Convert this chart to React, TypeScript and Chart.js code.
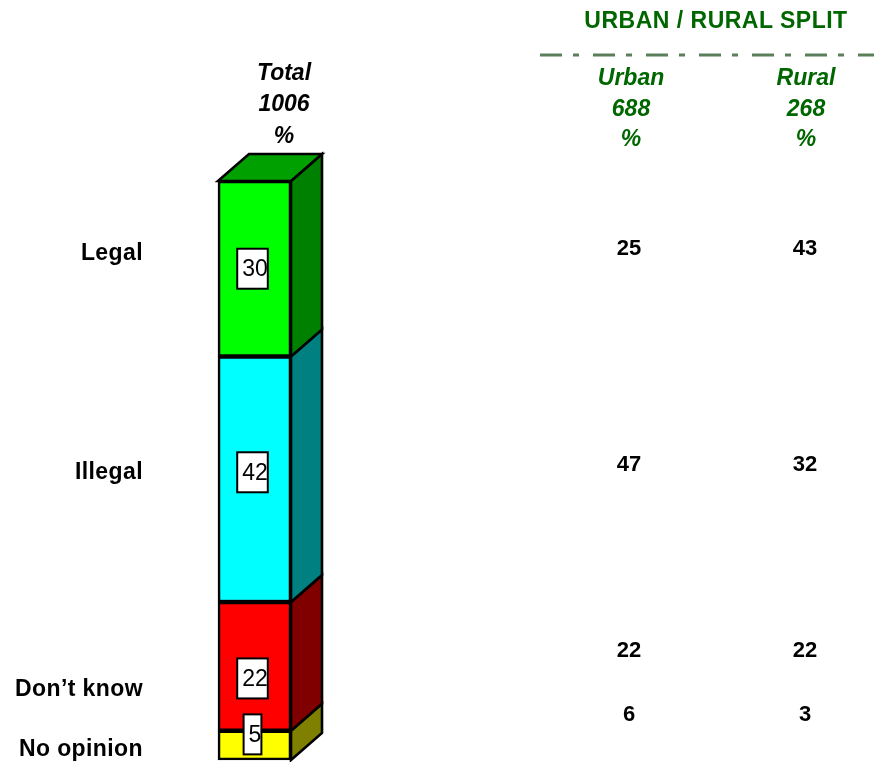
import React, { useEffect, useRef } from "react";
import { Chart, registerables } from "chart.js";

Chart.register(...registerables);

// ---- data ----
const categories = ["No opinion", "Don’t know", "Illegal", "Legal"];
const totalValues = [5, 22, 42, 30];
const urbanValues = [6, 22, 47, 25];
const ruralValues = [3, 22, 32, 43];
const totalHeader = ["Total", "1006", "%"];
const urbanHeader = ["Urban", "688", "%"];
const ruralHeader = ["Rural", "268", "%"];
const splitTitle = "URBAN / RURAL SPLIT";

// ---- styles ----
const frontColors = ["#FFFF00", "#FF0000", "#00FFFF", "#00FF00"];
const sideColors = ["#808000", "#800000", "#008080", "#008000"];
const topColor = "#00A000";
const green = "#006600";
const FONT = "'Liberation Sans', Arial, Helvetica, sans-serif";
const labelNudge = [-11, 12, -7, 0];
const catLabelY = [748, 688, 471, 252];
const valueRowY = [714, 650, 464, 248];

const depthPlugin = {
  id: "depth3d",
  afterDatasetsDraw(chart: any) {
    const ctx = chart.ctx;
    const dx = 31;
    const dy = -27;
    ctx.save();
    ctx.lineWidth = 2.6;
    ctx.strokeStyle = "#000";
    ctx.lineJoin = "miter";
    const n = chart.data.datasets.length;
    for (let i = 0; i < n; i++) {
      const meta = chart.getDatasetMeta(i);
      meta.data.forEach((bar: any) => {
        const { x, y, base, width } = bar.getProps(["x", "y", "base", "width"], true);
        const right = x + width / 2;
        ctx.beginPath();
        ctx.moveTo(right, y);
        ctx.lineTo(right + dx, y + dy);
        ctx.lineTo(right + dx, base + dy);
        ctx.lineTo(right, base);
        ctx.closePath();
        ctx.fillStyle = sideColors[i];
        ctx.fill();
        ctx.stroke();
        if (i === n - 1) {
          const left = x - width / 2;
          ctx.beginPath();
          ctx.moveTo(left, y);
          ctx.lineTo(left + dx, y + dy);
          ctx.lineTo(right + dx, y + dy);
          ctx.lineTo(right, y);
          ctx.closePath();
          ctx.fillStyle = topColor;
          ctx.fill();
          ctx.stroke();
        }
      });
    }
    // value boxes
    ctx.lineWidth = 2;
    ctx.font = "23px " + FONT;
    ctx.textBaseline = "middle";
    ctx.textAlign = "left";
    for (let i = 0; i < n; i++) {
      const meta = chart.getDatasetMeta(i);
      meta.data.forEach((bar: any, j: number) => {
        const { x, y, base } = bar.getProps(["x", "y", "base"], true);
        const txt = String(chart.data.datasets[i].data[j]);
        const tw = ctx.measureText(txt).width;
        const bw = tw + 5;
        const bh = 40;
        const cy = (y + base) / 2 + labelNudge[i];
        const bx = x - 2 - bw / 2;
        ctx.fillStyle = "#FFFFFF";
        ctx.fillRect(bx, cy - bh / 2, bw, bh);
        ctx.strokeRect(bx, cy - bh / 2, bw, bh);
        ctx.fillStyle = "#000";
        ctx.fillText(txt, bx + 5, cy + 1);
      });
    }
    ctx.restore();
  },
};

function Txt(props: {
  text: string;
  cx?: number;
  right?: number;
  cy: number;
  size?: number;
  color?: string;
  italic?: boolean;
  spacing?: number;
}) {
  const { text, cx, right, cy, size = 23, color = "#000", italic = false, spacing = 0 } = props;
  const h = 30;
  const style: any = {
    position: "absolute",
    top: cy - h / 2,
    height: h,
    lineHeight: h + "px",
    fontFamily: FONT,
    fontWeight: "bold",
    fontStyle: italic ? "italic" : "normal",
    fontSize: size,
    color,
    letterSpacing: spacing,
    whiteSpace: "nowrap",
  };
  if (right !== undefined) {
    style.left = 0;
    style.width = right;
    style.textAlign = "right";
  } else {
    style.left = (cx as number) - 150;
    style.width = 300;
    style.textAlign = "center";
  }
  return <div style={style}>{text}</div>;
}

export default function App() {
  const ref = useRef<HTMLCanvasElement>(null);

  useEffect(() => {
    if (!ref.current) return;
    const total = totalValues.reduce((a, b) => a + b, 0);
    const chart = new Chart(ref.current, {
      type: "bar",
      data: {
        labels: ["Total"],
        datasets: categories.map((c, i) => ({
          label: c,
          data: [totalValues[i]],
          backgroundColor: frontColors[i],
          borderColor: "#000",
          borderWidth: 2.6,
          borderSkipped: false,
          barPercentage: 1,
          categoryPercentage: 1,
          clip: false as any,
        })),
      },
      options: {
        animation: false,
        responsive: false,
        devicePixelRatio: 1,
        layout: { padding: { left: 218, right: 583, top: 181, bottom: 2 } },
        plugins: { legend: { display: false }, tooltip: { enabled: false } },
        scales: {
          x: { stacked: true, display: false },
          y: { stacked: true, display: false, min: 0, max: total },
        },
      },
      plugins: [depthPlugin],
    });
    return () => chart.destroy();
  }, []);

  return (
    <div style={{ position: "absolute", left: 0, top: 0, width: 874, height: 762, background: "#fff", overflow: "hidden" }}>
      <canvas ref={ref} width={874} height={762} style={{ position: "absolute", left: 0, top: 0 }} />
      {totalHeader.map((t, i) => (
        <Txt key={"t" + i} text={t} cx={284} cy={[72, 103, 135][i]} italic />
      ))}
      <Txt text={splitTitle} cx={716} cy={20} color={green} spacing={0.5} />
      <svg width={874} height={762} style={{ position: "absolute", left: 0, top: 0, pointerEvents: "none" }}>
        <line x1={540} y1={55} x2={874} y2={55} stroke="#5B7F5B" strokeWidth={3} strokeDasharray="22 11 6 14" />
      </svg>
      {urbanHeader.map((t, i) => (
        <Txt key={"u" + i} text={t} cx={631} cy={[77, 108, 138][i]} italic color={green} />
      ))}
      {ruralHeader.map((t, i) => (
        <Txt key={"r" + i} text={t} cx={806} cy={[77, 108, 138][i]} italic color={green} />
      ))}
      {categories.map((c, i) => (
        <Txt key={"c" + i} text={c} right={143} cy={catLabelY[i]} spacing={0.4} />
      ))}
      {urbanValues.map((v, i) => (
        <Txt key={"uv" + i} text={String(v)} cx={629} cy={valueRowY[i]} size={22} />
      ))}
      {ruralValues.map((v, i) => (
        <Txt key={"rv" + i} text={String(v)} cx={805} cy={valueRowY[i]} size={22} />
      ))}
    </div>
  );
}
